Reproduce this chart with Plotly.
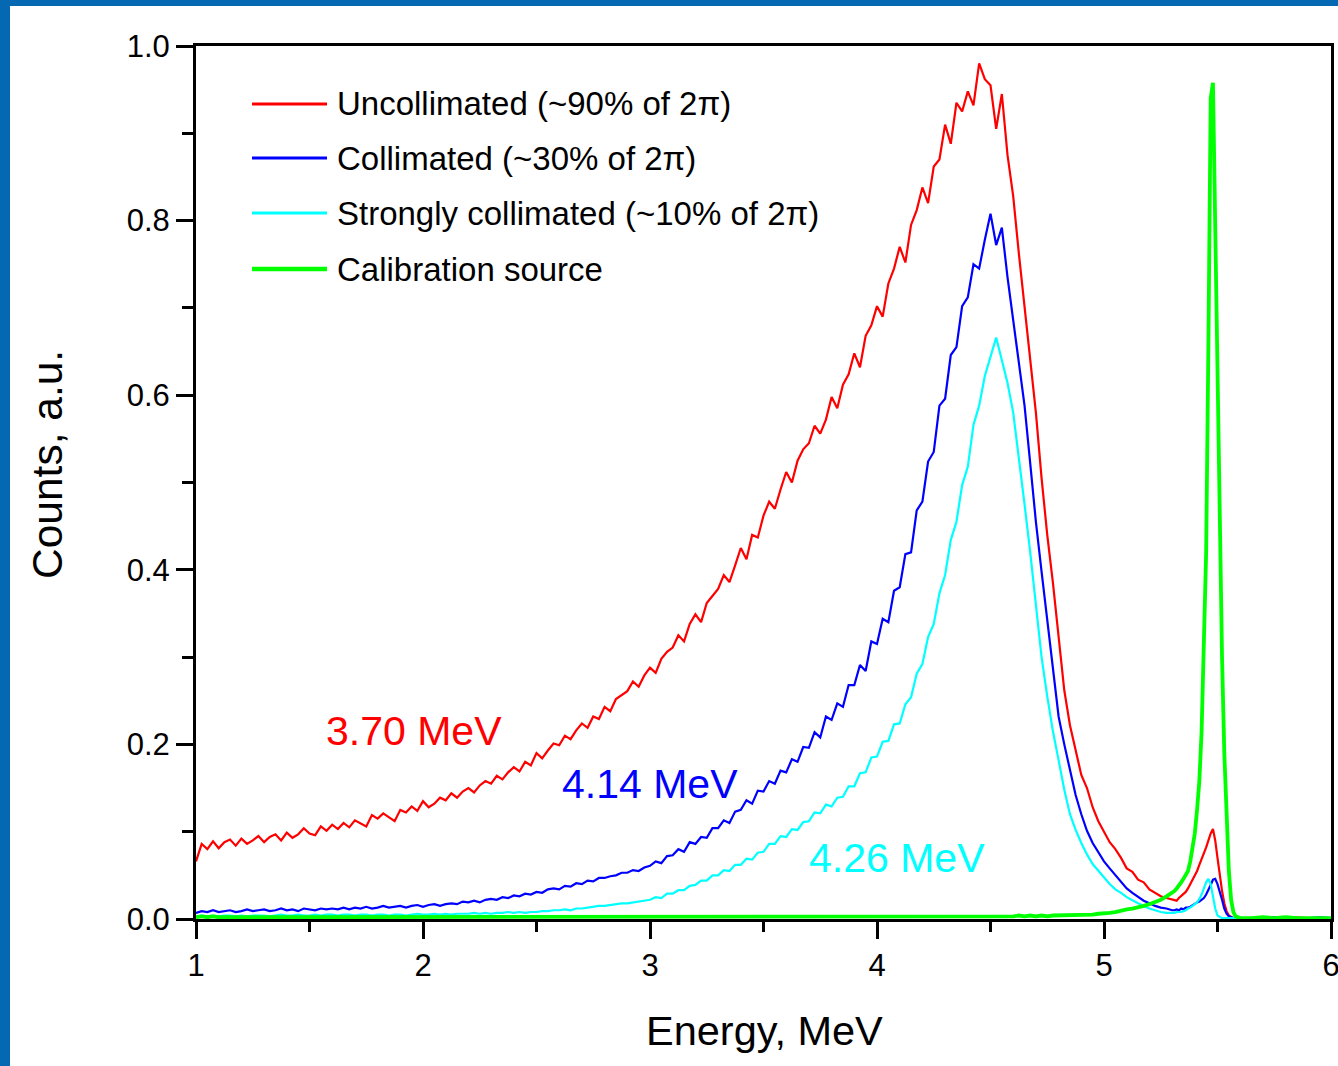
import numpy as np
import plotly.graph_objects as go

# Energy channels: coarse over the continuum, fine across the calibration line, coarse tail
ENERGY_A = np.round(1.0 + 0.025 * np.arange(173), 3)   # 1.000 .. 5.300 MeV
ENERGY_B = np.round(5.31 + 0.01 * np.arange(30), 2)    # 5.31 .. 5.60 MeV
ENERGY_C = np.round(5.65 + 0.05 * np.arange(8), 2)     # 5.65 .. 6.00 MeV
energy = np.concatenate([ENERGY_A, ENERGY_B, ENERGY_C])

uncollimated = [
    0.066, 0.086, 0.080, 0.089, 0.081, 0.088, 0.091, 0.084, 0.092, 0.086, 0.090, 0.095,
    0.088, 0.094, 0.097, 0.090, 0.099, 0.093, 0.097, 0.104, 0.098, 0.096, 0.106, 0.101,
    0.108, 0.103, 0.110, 0.105, 0.113, 0.109, 0.106, 0.119, 0.115, 0.121, 0.117, 0.112,
    0.125, 0.122, 0.129, 0.124, 0.135, 0.128, 0.132, 0.139, 0.136, 0.144, 0.139, 0.146,
    0.150, 0.145, 0.153, 0.158, 0.155, 0.164, 0.160, 0.168, 0.174, 0.169, 0.180, 0.176,
    0.190, 0.184, 0.193, 0.201, 0.199, 0.210, 0.206, 0.216, 0.224, 0.219, 0.232, 0.229,
    0.243, 0.238, 0.252, 0.256, 0.261, 0.272, 0.266, 0.279, 0.288, 0.282, 0.298, 0.306,
    0.311, 0.325, 0.318, 0.338, 0.349, 0.340, 0.362, 0.370, 0.378, 0.394, 0.386, 0.405,
    0.425, 0.412, 0.440, 0.437, 0.462, 0.478, 0.470, 0.492, 0.512, 0.500, 0.525, 0.538,
    0.545, 0.565, 0.556, 0.572, 0.598, 0.585, 0.612, 0.624, 0.648, 0.632, 0.668, 0.680,
    0.702, 0.690, 0.728, 0.745, 0.770, 0.752, 0.795, 0.812, 0.838, 0.820, 0.862, 0.870,
    0.910, 0.888, 0.935, 0.925, 0.948, 0.932, 0.980, 0.962, 0.955, 0.905, 0.945, 0.875,
    0.828, 0.762, 0.700, 0.635, 0.580, 0.505, 0.440, 0.385, 0.322, 0.262, 0.222, 0.192,
    0.165, 0.150, 0.128, 0.112, 0.100, 0.088, 0.080, 0.070, 0.058, 0.054, 0.045, 0.042,
    0.034, 0.030, 0.026, 0.024, 0.022,
    0.022, 0.021, 0.024, 0.026, 0.028, 0.031, 0.035, 0.040, 0.046, 0.050,
    0.055, 0.062, 0.068, 0.075, 0.082, 0.090, 0.098, 0.103, 0.090, 0.070,
    0.050, 0.032, 0.018, 0.009, 0.004, 0.002, 0.001, 0.001, 0.001, 0.001,
    0.001, 0.002, 0.001, 0.001, 0.002, 0.001, 0.001, 0.001,
]

collimated = [
    0.007, 0.009, 0.008, 0.010, 0.008, 0.009, 0.010, 0.008, 0.009, 0.011, 0.009, 0.010,
    0.011, 0.009, 0.010, 0.012, 0.010, 0.011, 0.009, 0.012, 0.011, 0.010, 0.012, 0.011,
    0.012, 0.011, 0.013, 0.011, 0.013, 0.012, 0.014, 0.012, 0.013, 0.015, 0.013, 0.014,
    0.015, 0.013, 0.015, 0.016, 0.014, 0.016, 0.017, 0.015, 0.017, 0.018, 0.017, 0.020,
    0.019, 0.021, 0.019, 0.022, 0.023, 0.022, 0.025, 0.024, 0.027, 0.026, 0.029, 0.028,
    0.031, 0.030, 0.034, 0.035, 0.034, 0.038, 0.037, 0.041, 0.040, 0.044, 0.043, 0.047,
    0.047, 0.049, 0.050, 0.053, 0.053, 0.056, 0.055, 0.059, 0.061, 0.066, 0.064, 0.072,
    0.073, 0.080, 0.077, 0.088, 0.086, 0.094, 0.093, 0.104, 0.104, 0.113, 0.110, 0.123,
    0.125, 0.136, 0.132, 0.147, 0.146, 0.158, 0.155, 0.170, 0.168, 0.183, 0.180, 0.197,
    0.196, 0.214, 0.208, 0.232, 0.228, 0.247, 0.243, 0.268, 0.268, 0.291, 0.284, 0.318,
    0.315, 0.344, 0.340, 0.376, 0.380, 0.418, 0.420, 0.468, 0.478, 0.524, 0.535, 0.588,
    0.596, 0.646, 0.655, 0.702, 0.712, 0.750, 0.745, 0.778, 0.808, 0.772, 0.792, 0.735,
    0.686, 0.640, 0.588, 0.522, 0.455, 0.398, 0.342, 0.285, 0.232, 0.200, 0.170, 0.142,
    0.120, 0.101, 0.087, 0.076, 0.066, 0.058, 0.050, 0.042, 0.035, 0.030, 0.025, 0.021,
    0.018, 0.015, 0.013, 0.012, 0.010,
    0.010, 0.011, 0.010, 0.012, 0.011, 0.013, 0.013, 0.014, 0.016, 0.017,
    0.019, 0.020, 0.022, 0.024, 0.028, 0.033, 0.039, 0.045, 0.046, 0.040,
    0.032, 0.022, 0.012, 0.006, 0.003, 0.002, 0.001, 0.001, 0.001, 0.001,
    0.001, 0.001, 0.002, 0.001, 0.001, 0.001, 0.002, 0.001,
]

strongly_collimated = [
    0.003, 0.004, 0.003, 0.004, 0.003, 0.004, 0.004, 0.003, 0.004, 0.003, 0.004, 0.004,
    0.004, 0.003, 0.004, 0.005, 0.004, 0.004, 0.005, 0.004, 0.004, 0.005, 0.004, 0.005,
    0.005, 0.004, 0.005, 0.005, 0.004, 0.005, 0.005, 0.004, 0.005, 0.005, 0.004, 0.005,
    0.005, 0.004, 0.005, 0.006, 0.005, 0.005, 0.006, 0.005, 0.006, 0.005, 0.006, 0.006,
    0.006, 0.007, 0.006, 0.007, 0.006, 0.007, 0.007, 0.008, 0.007, 0.008, 0.007, 0.008,
    0.008, 0.009, 0.009, 0.010, 0.010, 0.011, 0.010, 0.012, 0.012, 0.013, 0.014, 0.015,
    0.015, 0.016, 0.017, 0.018, 0.018, 0.019, 0.020, 0.021, 0.022, 0.025, 0.024, 0.029,
    0.029, 0.033, 0.033, 0.038, 0.039, 0.044, 0.044, 0.050, 0.050, 0.056, 0.055, 0.062,
    0.062, 0.069, 0.068, 0.076, 0.077, 0.086, 0.086, 0.095, 0.094, 0.103, 0.102, 0.111,
    0.112, 0.122, 0.121, 0.131, 0.129, 0.139, 0.140, 0.152, 0.152, 0.167, 0.168, 0.185,
    0.186, 0.203, 0.204, 0.223, 0.224, 0.246, 0.254, 0.281, 0.292, 0.323, 0.338, 0.373,
    0.394, 0.434, 0.455, 0.497, 0.518, 0.566, 0.588, 0.622, 0.643, 0.666, 0.640, 0.614,
    0.580, 0.530, 0.475, 0.420, 0.358, 0.300, 0.255, 0.215, 0.182, 0.148, 0.120, 0.102,
    0.087, 0.074, 0.063, 0.055, 0.047, 0.040, 0.034, 0.030, 0.025, 0.021, 0.018, 0.015,
    0.012, 0.010, 0.008, 0.007, 0.007,
    0.007, 0.008, 0.008, 0.008, 0.009, 0.010, 0.012, 0.013, 0.015, 0.017,
    0.019, 0.023, 0.028, 0.035, 0.042, 0.046, 0.040, 0.026, 0.012, 0.004,
    0.002, 0.001, 0.001, 0.001, 0.001, 0.001, 0.001, 0.001, 0.001, 0.001,
    0.001, 0.001, 0.001, 0.001, 0.001, 0.001, 0.001, 0.001,
]

calibration = [
    0.002, 0.003, 0.002, 0.003, 0.002, 0.002, 0.003, 0.002, 0.003, 0.002, 0.002, 0.003,
    0.002, 0.003, 0.002, 0.002, 0.003, 0.002, 0.003, 0.002, 0.002, 0.003, 0.002, 0.003,
    0.002, 0.002, 0.003, 0.002, 0.003, 0.002, 0.002, 0.003, 0.002, 0.003, 0.002, 0.002,
    0.003, 0.002, 0.003, 0.002, 0.002, 0.003, 0.002, 0.003, 0.002, 0.002, 0.003, 0.002,
    0.003, 0.002, 0.002, 0.003, 0.002, 0.003, 0.002, 0.002, 0.003, 0.002, 0.003, 0.002,
    0.002, 0.003, 0.002, 0.003, 0.002, 0.002, 0.003, 0.002, 0.003, 0.002, 0.002, 0.003,
    0.002, 0.003, 0.002, 0.002, 0.003, 0.002, 0.003, 0.002, 0.002, 0.003, 0.002, 0.003,
    0.002, 0.002, 0.003, 0.002, 0.003, 0.002, 0.002, 0.003, 0.002, 0.003, 0.002, 0.002,
    0.003, 0.002, 0.003, 0.002, 0.002, 0.003, 0.002, 0.003, 0.002, 0.002, 0.003, 0.002,
    0.003, 0.002, 0.002, 0.003, 0.002, 0.003, 0.002, 0.002, 0.003, 0.002, 0.003, 0.002,
    0.002, 0.003, 0.002, 0.003, 0.002, 0.002, 0.003, 0.002, 0.003, 0.002, 0.002, 0.003,
    0.002, 0.003, 0.002, 0.002, 0.003, 0.002, 0.003, 0.002, 0.002, 0.003, 0.002, 0.003,
    0.003, 0.004, 0.003, 0.004, 0.003, 0.004, 0.003, 0.004, 0.004, 0.005, 0.004, 0.005,
    0.004, 0.005, 0.005, 0.006, 0.006, 0.007, 0.008, 0.010, 0.011, 0.012, 0.013, 0.015,
    0.017, 0.019, 0.022, 0.026, 0.030,
    0.032, 0.035, 0.038, 0.042, 0.046, 0.050, 0.055, 0.066, 0.080, 0.098,
    0.125, 0.158, 0.215, 0.300, 0.420, 0.660, 0.940, 0.958, 0.800, 0.600,
    0.430, 0.300, 0.190, 0.110, 0.055, 0.022, 0.008, 0.003, 0.002, 0.001,
    0.001, 0.002, 0.001, 0.002, 0.001, 0.001, 0.002, 0.001,
]

series_names = [
    "Uncollimated (~90% of 2π)",
    "Collimated (~30% of 2π)",
    "Strongly collimated (~10% of 2π)",
    "Calibration source",
]
series_values = [uncollimated, collimated, strongly_collimated, calibration]
series_colors = ["#FF0000", "#0000FF", "#00FFFF", "#00FF00"]
series_widths = [2.2, 2.2, 2.2, 3.8]

peak_labels = ["3.70 MeV", "4.14 MeV", "4.26 MeV"]
peak_label_x = [1.96, 3.0, 4.086]
peak_label_y = [0.215, 0.155, 0.070]

x_ticks = [1, 2, 3, 4, 5, 6]
y_ticks = [0.0, 0.2, 0.4, 0.6, 0.8, 1.0]

FONT = "Liberation Sans, Arial, sans-serif"

# plot-area geometry (pixels) used to place the hand-built legend and frame
W, H = 1338, 1066
L, R, T, B = 196, 1331, 46, 919


def px_x(px):
    return (px - L) / (R - L)


def px_y(py):
    return (B - py) / (B - T)


fig = go.Figure()
for name, vals, col, lw in zip(series_names, series_values, series_colors, series_widths):
    fig.add_trace(go.Scatter(
        x=energy, y=vals, mode="lines", name=name,
        line=dict(color=col, width=lw), showlegend=False,
    ))

shapes = []
annotations = []

# legend drawn as line samples with text
legend_rows = [104, 158, 213, 269]
for name, col, lw, row in zip(series_names, series_colors, series_widths, legend_rows):
    shapes.append(dict(type="line", xref="paper", yref="paper",
                       x0=px_x(252), x1=px_x(327), y0=px_y(row), y1=px_y(row),
                       line=dict(color=col, width=lw + 0.6)))
    annotations.append(dict(xref="paper", yref="paper", x=px_x(335), y=px_y(row),
                            text=name, showarrow=False, xanchor="left", yanchor="middle",
                            font=dict(family=FONT, size=33, color="black")))

for txt, xv, yv, col in zip(peak_labels, peak_label_x, peak_label_y, series_colors):
    annotations.append(dict(x=xv, y=yv, xref="x", yref="y", text=txt, showarrow=False,
                            xanchor="center", yanchor="middle",
                            font=dict(family=FONT, size=41, color=col)))

# axis titles
annotations.append(dict(xref="paper", yref="paper", x=px_x(764), y=px_y(1030),
                        text="Energy, MeV", showarrow=False, xanchor="center",
                        yanchor="middle", font=dict(family=FONT, size=41.5, color="black")))
annotations.append(dict(xref="paper", yref="paper", x=px_x(48), y=px_y(465),
                        text="Counts, a.u.", showarrow=False, textangle=-90,
                        xanchor="center", yanchor="middle",
                        font=dict(family=FONT, size=42.5, color="black")))

# blue page frame on the left and top edges
frame_blue = "#0568B3"
shapes.append(dict(type="rect", xref="paper", yref="paper", layer="above",
                   x0=px_x(0), x1=px_x(10), y0=px_y(W), y1=px_y(0),
                   fillcolor=frame_blue, line=dict(width=0)))
shapes.append(dict(type="rect", xref="paper", yref="paper", layer="above",
                   x0=px_x(0), x1=px_x(W), y0=px_y(6), y1=px_y(0),
                   fillcolor=frame_blue, line=dict(width=0)))

axis_common = dict(
    showline=True, linecolor="black", linewidth=3, mirror=True,
    showgrid=False, zeroline=False, automargin=False,
    ticklabeloverflow="allow",
    ticks="outside", ticklen=17, tickwidth=3, tickcolor="black",
    tickfont=dict(family=FONT, size=31, color="black"),
)

fig.update_layout(
    width=W, height=H,
    margin=dict(l=L, r=W - R, t=T, b=H - B, pad=0, autoexpand=False),
    paper_bgcolor="white", plot_bgcolor="white",
    shapes=shapes, annotations=annotations,
    xaxis=dict(range=[1, 6], tickvals=x_ticks, ticktext=[str(v) for v in x_ticks],
               minor=dict(dtick=0.5, ticks="outside", ticklen=10, tickwidth=3,
                          tickcolor="black", showgrid=False),
               **axis_common),
    yaxis=dict(range=[0, 1], tickvals=y_ticks, ticktext=[f"{v:.1f}" for v in y_ticks],
               minor=dict(dtick=0.1, ticks="outside", ticklen=11, tickwidth=3,
                          tickcolor="black", showgrid=False),
               **axis_common),
)

fig.write_html("out.html")
